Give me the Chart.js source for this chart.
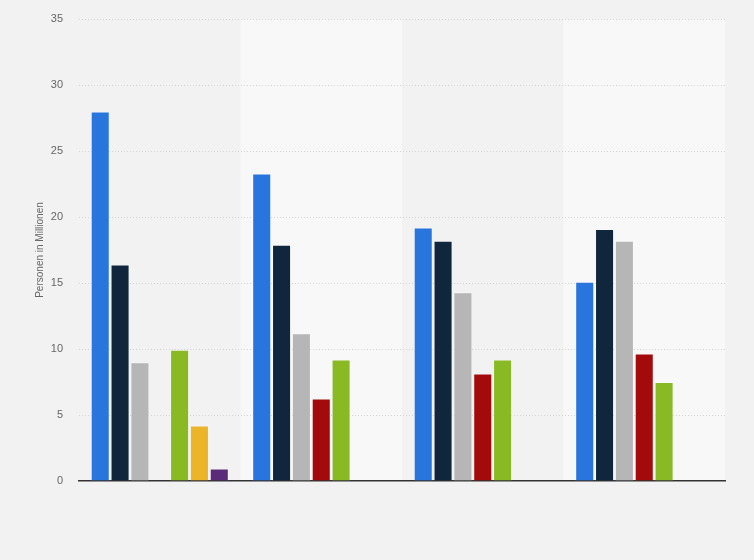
<!DOCTYPE html>
<html lang="de">
<head>
<meta charset="utf-8">
<title>Personen in Millionen</title>
<script src="https://cdn.jsdelivr.net/npm/chart.js@4/dist/chart.umd.min.js"></script>
<style>
  html, body { margin: 0; padding: 0; background: #f2f2f2; }
  #wrap { width: 754px; height: 560px; position: relative; }
</style>
</head>
<body>
<div id="wrap"><canvas id="chart" width="754" height="560"></canvas></div>
<script>
"use strict";

// Kategorien (keine Beschriftung im Original sichtbar)
const categories = ["1", "2", "3", "4"];

// Werte je Reihe, in Millionen
const seriesBlue   = [28.0, 23.3, 19.2, 15.1];
const seriesNavy   = [16.4, 17.9, 18.2, 19.1];
const seriesGray   = [9.0, 11.2, 14.3, 18.2];
const seriesRed    = [null, 6.25, 8.15, 9.65];
const seriesGreen  = [9.95, 9.2, 9.2, 7.5];
const seriesYellow = [4.2, null, null, null];
const seriesPurple = [0.95, null, null, null];

const yTicks = [0, 5, 10, 15, 20, 25, 30, 35];

const COLORS = {
  blue: "#2876dd",
  navy: "#0f263d",
  gray: "#b6b6b6",
  red: "#a30a0b",
  green: "#89ba24",
  yellow: "#ebb429",
  purple: "#5b2a78",
};

function makeSet(label, data, color) {
  return {
    label,
    data,
    backgroundColor: color,
    borderColor: "rgba(255,255,255,0.3)",
    borderWidth: 1,
    borderSkipped: "bottom",
    categoryPercentage: 0.86,
    barPercentage: 0.96,
  };
}

// abwechselnd hellere Hintergrundstreifen hinter Kategorie 2 und 4
const bandPlugin = {
  id: "bands",
  beforeDraw(chart) {
    const { ctx, chartArea, scales } = chart;
    const x = scales.x;
    const step = chartArea.width / categories.length;
    ctx.save();
    ctx.fillStyle = "#f8f8f8";
    categories.forEach((c, i) => {
      if (i % 2 === 1) {
        const cx = x.getPixelForValue(i);
        ctx.fillRect(cx - step / 2, chartArea.top, step, chartArea.bottom - chartArea.top);
      }
    });
    ctx.restore();
  },
};

new Chart(document.getElementById("chart"), {
  type: "bar",
  data: {
    labels: categories,
    datasets: [
      makeSet("Reihe 1", seriesBlue, COLORS.blue),
      makeSet("Reihe 2", seriesNavy, COLORS.navy),
      makeSet("Reihe 3", seriesGray, COLORS.gray),
      makeSet("Reihe 4", seriesRed, COLORS.red),
      makeSet("Reihe 5", seriesGreen, COLORS.green),
      makeSet("Reihe 6", seriesYellow, COLORS.yellow),
      makeSet("Reihe 7", seriesPurple, COLORS.purple),
    ],
  },
  options: {
    responsive: false,
    animation: false,
    layout: { padding: { top: 19, right: 29, bottom: 79, left: 0 } },
    plugins: {
      legend: { display: false },
      tooltip: { enabled: false },
    },
    scales: {
      x: {
        ticks: { display: false },
        grid: { display: false, drawTicks: false },
        border: { display: true, color: "#333333", width: 1.5 },
      },
      y: {
        min: 0,
        max: 35,
        afterBuildTicks(scale) {
          scale.ticks = yTicks.map((v) => ({ value: v }));
        },
        afterFit(scale) {
          scale.width = 79;
        },
        ticks: {
          color: "#666666",
          font: { family: "'Liberation Sans', Arial, sans-serif", size: 11 },
          padding: 3,
        },
        grid: {
          color: (c) => (c.tick && c.tick.value === 0 ? "rgba(0,0,0,0)" : "#d4d4d4"),
          lineWidth: 1,
          drawTicks: true,
          tickLength: 13,
          tickColor: "rgba(0,0,0,0)",
        },
        border: { display: false, dash: [1, 2] },
        title: {
          display: true,
          text: "Personen in Millionen",
          color: "#666666",
          font: { family: "'Liberation Sans', Arial, sans-serif", size: 10 },
          padding: { top: 34, bottom: 0 },
        },
      },
    },
  },
  plugins: [bandPlugin],
});
</script>
</body>
</html>
